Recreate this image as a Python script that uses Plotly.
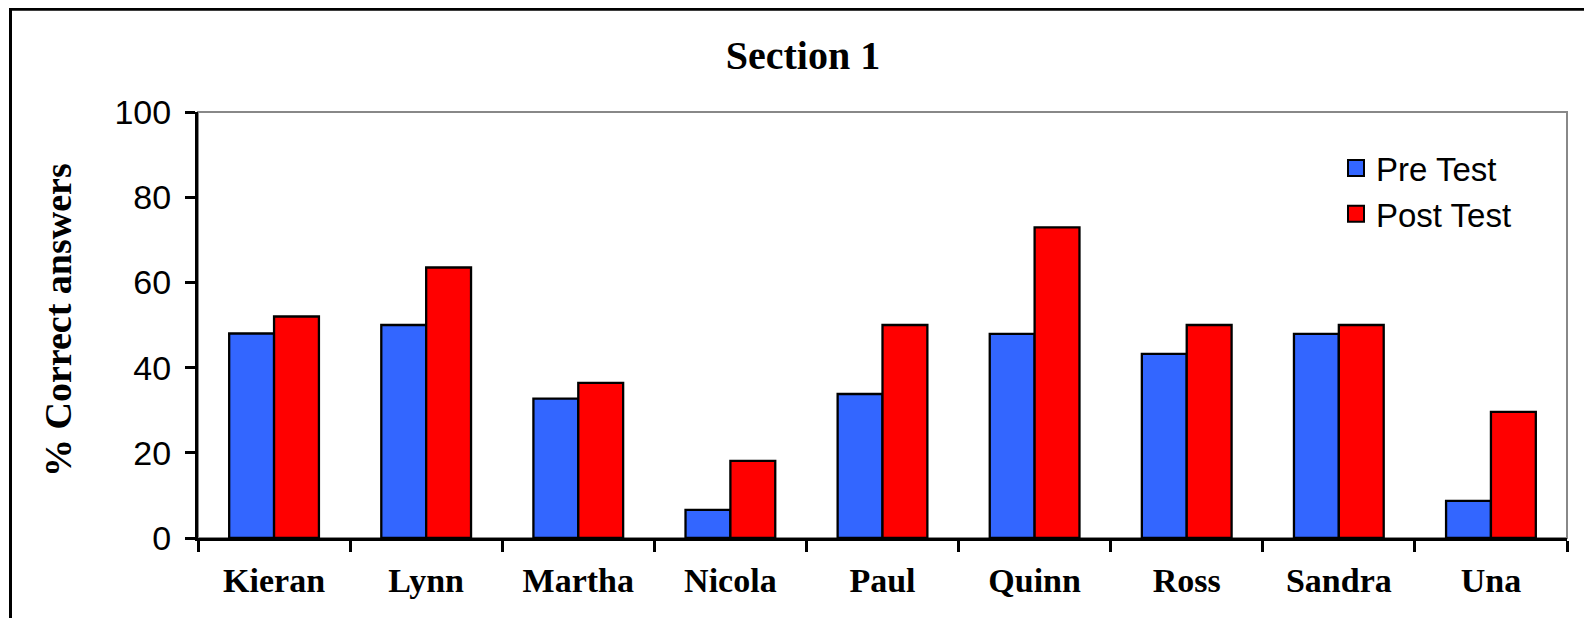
import plotly.graph_objects as go

students = ["Kieran", "Lynn", "Martha", "Nicola", "Paul", "Quinn", "Ross", "Sandra", "Una"]
pre_test = [48, 50, 32.7, 6.6, 33.8, 47.9, 43.2, 47.9, 8.7]
post_test = [52, 63.5, 36.4, 18.1, 50, 72.9, 50, 50, 29.6]
series_names = ["Pre Test", "Post Test"]
series_colors = ["#3366FF", "#FF0000"]
y_ticks = [0, 20, 40, 60, 80, 100]

# figure fits inside the window (page body has an 8px margin)
W, H = 1576, 610
L, R, T, B = 190, 17, 104, 80
pw = W - L - R
ph = H - T - B

fig = go.Figure()
for name, vals, col in zip(series_names, [pre_test, post_test], series_colors):
    fig.add_trace(go.Bar(name=name, x=students, y=vals, showlegend=False,
                         marker=dict(color=col, line=dict(color="black", width=2.3))))
# legend entries with larger square swatches
for name, col in zip(series_names, series_colors):
    fig.add_trace(go.Scatter(name=name, x=[None], y=[None], mode="markers",
                             marker=dict(symbol="square", size=16, color=col,
                                         line=dict(color="black", width=2))))

fig.update_layout(
    width=W, height=H,
    margin=dict(l=L, r=R, t=T, b=B, pad=0),
    paper_bgcolor="white", plot_bgcolor="white",
    barmode="group", bargap=0.41, bargroupgap=0,
    showlegend=True,
    legend=dict(x=(1328 - L) / pw, y=1 - (132 - T) / ph, xanchor="left", yanchor="top",
                font=dict(family="Liberation Sans", size=33, color="black"),
                bgcolor="rgba(0,0,0,0)", borderwidth=0),
    title=dict(text="Section 1", x=795 / W, xanchor="center", xref="container",
               y=1 - 46.5 / H, yanchor="middle", yref="container",
               font=dict(family="Liberation Serif", size=40, color="black", weight="bold")),
    xaxis=dict(showgrid=False, showline=True, linecolor="black", linewidth=3,
               ticks="outside", ticklen=11, tickwidth=2.5, tickcolor="black",
               tickson="boundaries", ticklabelstandoff=10,
               tickfont=dict(family="Liberation Serif", size=34, color="black", weight="bold")),
    yaxis=dict(range=[0, 100], tickvals=y_ticks, showgrid=False, zeroline=False,
               showline=True, linecolor="black", linewidth=3,
               ticks="outside", ticklen=10, tickwidth=2.5, tickcolor="black",
               ticklabelstandoff=7,
               tickfont=dict(family="Liberation Sans", size=34, color="black")),
    shapes=[
        dict(type="rect", xref="paper", yref="paper", x0=0, x1=1, y0=0, y1=1,
             line=dict(color="#888888", width=2), layer="below"),
        dict(type="rect", xref="paper", yref="paper",
             x0=(2.5 - L) / pw, x1=(W + 30 - L) / pw,
             y0=-(H + 30 - T - ph) / ph, y1=1 + (T - 1.2) / ph,
             line=dict(color="black", width=3), layer="below"),
    ],
    annotations=[
        dict(text="% Correct answers", textangle=-90, xref="paper", yref="paper",
             x=(50 - L) / pw, y=1 - (312 - T) / ph, xanchor="center", yanchor="middle",
             showarrow=False,
             font=dict(family="Liberation Serif", size=38, color="black", weight="bold")),
    ],
)

fig.write_html("out.html")
